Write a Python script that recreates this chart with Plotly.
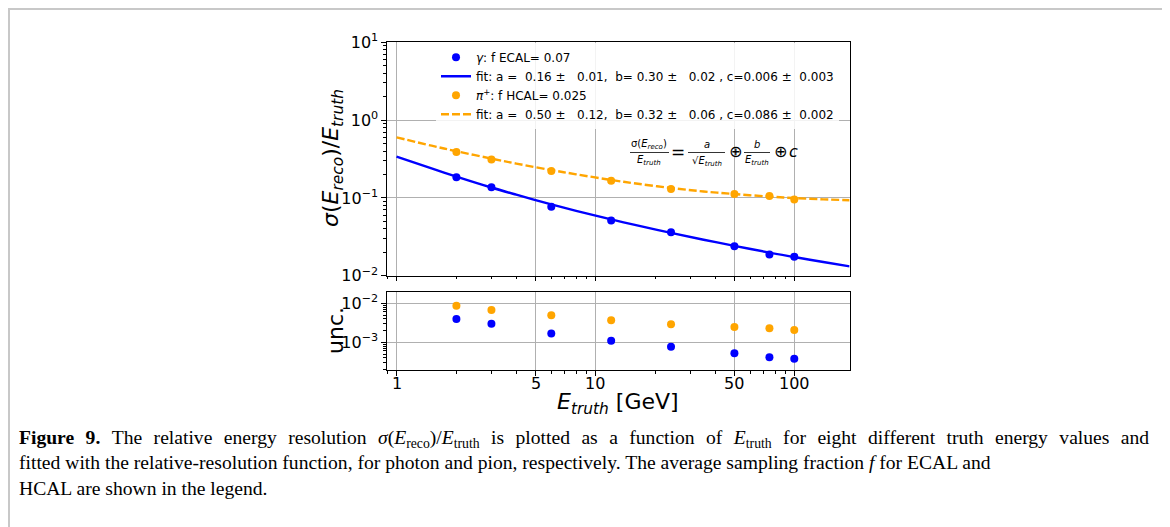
import math
import plotly.graph_objects as go

# truth energies [GeV] and measured relative resolution
energy = [2, 3, 6, 12, 24, 50, 75, 100]
res_gamma = [0.184, 0.137, 0.0767, 0.0514, 0.0361, 0.0239, 0.0187, 0.0175]
res_pion = [0.39, 0.312, 0.221, 0.166, 0.130, 0.1125, 0.106, 0.0953]

# uncertainties (lower panel)
unc_gamma = [0.00396, 0.00301, 0.00167, 0.0011, 0.000774, 0.000522, 0.000412, 0.00038]
unc_pion = [0.0087, 0.00674, 0.00492, 0.00366, 0.0029, 0.00247, 0.00229, 0.00207]

# fitted curves
fit_e = [1, 1.5, 2, 3, 4, 6, 8, 12, 16, 24, 35, 50, 75, 100, 140, 190]
fit_gamma = [0.340, 0.239, 0.188, 0.136, 0.110, 0.0825, 0.0681, 0.0529, 0.0446,
             0.0355, 0.0290, 0.0242, 0.0198, 0.0174, 0.0150, 0.0132]
fit_pion = [0.600, 0.469, 0.398, 0.320, 0.276, 0.228, 0.201, 0.170, 0.153,
            0.134, 0.121, 0.112, 0.104, 0.0995, 0.0958, 0.0934]

x_ticks = [1, 5, 10, 50, 100]
x_ticktext = ['1', '5', '10', '50', '100']
y_ticks = [0.01, 0.1, 1, 10]
y_ticktext = ['10<sup>−2</sup>', '10<sup>−1</sup>', '10<sup>0</sup>', '10<sup>1</sup>']
u_ticks = [0.001, 0.01]
u_ticktext = ['10<sup>−3</sup>', '10<sup>−2</sup>']

nb = '\u00a0'
names = [
    '<i>γ</i>: f ECAL= 0.07',
    'fit: a =  0.16 ±   0.01,  b= 0.30 ±   0.02 , c=0.006 ±  0.003'.replace(' ', nb),
    '<i>π</i><sup>+</sup>: f HCAL= 0.025',
    'fit: a =  0.50 ±   0.12,  b= 0.32 ±   0.06 , c=0.086 ±  0.002'.replace(' ', nb),
]

BLUE = '#0000ff'
ORANGE = '#ffa500'
# page body has an 8px margin, so the figure is a bit smaller than the window
OFF = 8
W, H = 1170 - OFF, 527 - OFF


def px(x):
    return (x - OFF) / W


def py(y):
    return 1 - (y - OFF) / H


fig = go.Figure()

# main panel
fig.add_trace(go.Scatter(x=fit_e, y=fit_gamma, mode='lines', name=names[1], legendrank=2,
                         line=dict(color=BLUE, width=2.4, shape='spline'), xaxis='x', yaxis='y'))
fig.add_trace(go.Scatter(x=fit_e, y=fit_pion, mode='lines', name=names[3], legendrank=4,
                         line=dict(color=ORANGE, width=2.4, dash='8px,3px', shape='spline'),
                         xaxis='x', yaxis='y'))
fig.add_trace(go.Scatter(x=energy, y=res_gamma, mode='markers', name=names[0], legendrank=1,
                         marker=dict(color=BLUE, size=8), xaxis='x', yaxis='y'))
fig.add_trace(go.Scatter(x=energy, y=res_pion, mode='markers', name=names[2], legendrank=3,
                         marker=dict(color=ORANGE, size=8), xaxis='x', yaxis='y'))

# uncertainty panel
fig.add_trace(go.Scatter(x=energy, y=unc_pion, mode='markers', showlegend=False,
                         marker=dict(color=ORANGE, size=8), xaxis='x2', yaxis='y2'))
fig.add_trace(go.Scatter(x=energy, y=unc_gamma, mode='markers', showlegend=False,
                         marker=dict(color=BLUE, size=8), xaxis='x2', yaxis='y2'))

axis_common = dict(showline=True, mirror=True, linecolor='black', linewidth=1.2,
                   ticks='outside', ticklen=4.5, tickwidth=1, tickcolor='black',
                   showgrid=True, gridcolor='#b0b0b0', gridwidth=1, zeroline=False,
                   automargin=False,
                   tickfont=dict(family='DejaVu Sans', size=16, color='black'),
                   minor=dict(ticks='outside', ticklen=2.5, tickcolor='black', dtick='D1',
                              showgrid=False))
xr = [-0.048, 2.2777]

fig.update_layout(
    width=W, height=H,
    margin=dict(l=0, r=0, t=0, b=0, autoexpand=False),
    paper_bgcolor='white', plot_bgcolor='white',
    font=dict(family='DejaVu Sans', color='black'),
    xaxis=dict(axis_common, type='log', range=xr, domain=[px(387), px(849.5)],
               anchor='y', tickvals=x_ticks, ticktext=x_ticktext, showticklabels=False),
    yaxis=dict(axis_common, type='log', range=[-2, 1], domain=[py(275.7), py(42.3)],
               anchor='x', tickvals=y_ticks, ticktext=y_ticktext),
    xaxis2=dict(axis_common, type='log', range=xr, domain=[px(387), px(849.5)],
                anchor='y2', tickvals=x_ticks, ticktext=x_ticktext, matches='x',
                showticklabels=False),
    yaxis2=dict(axis_common, type='log', range=[-3.718, -1.718],
                domain=[py(370.3), py(292.3)], anchor='x2',
                tickvals=u_ticks, ticktext=u_ticktext),
    legend=dict(x=px(436), y=py(42.8), xanchor='left', yanchor='top',
                bgcolor='rgba(255,255,255,0.85)', borderwidth=0,
                font=dict(family='DejaVu Sans', size=12, color='black'),
                traceorder='normal', tracegroupgap=0),
    showlegend=True,
)

ann = []
# x tick labels of the lower panel (placed a little closer to the axis)
for v, t in zip(x_ticks, x_ticktext):
    ann.append(dict(x=math.log10(v), xref='x2', y=py(383), text=t,
                    font=dict(size=16)))

# axis titles
ann.append(dict(x=px(333), y=py(158), text='<i>σ</i>(<i>E<sub>reco</sub></i>)/<i>E<sub>truth</sub></i>',
                textangle=-90, font=dict(size=22)))
ann.append(dict(x=px(335), y=py(331), text='unc.', textangle=-90, font=dict(size=22)))
ann.append(dict(x=px(618), y=py(403), text='<i>E<sub>truth</sub></i> [GeV]', font=dict(size=22)))

# resolution formula
fs = 10
ann += [
    dict(x=px(649), y=py(145), text='σ(<i>E<sub>reco</sub></i>)', font=dict(size=fs)),
    dict(x=px(649), y=py(160), text='<i>E<sub>truth</sub></i>', font=dict(size=fs)),
    dict(x=px(678), y=py(152), text='=', font=dict(size=17)),
    dict(x=px(707), y=py(145), text='<i>a</i>', font=dict(size=fs)),
    dict(x=px(707), y=py(161), text='√<i>E<sub>truth</sub></i>', font=dict(size=fs)),
    dict(x=px(735), y=py(152), text='⊕', font=dict(size=16)),
    dict(x=px(757), y=py(145), text='<i>b</i>', font=dict(size=fs)),
    dict(x=px(757), y=py(160), text='<i>E<sub>truth</sub></i>', font=dict(size=fs)),
    dict(x=px(780), y=py(152), text='⊕', font=dict(size=16)),
    dict(x=px(793), y=py(152), text='<i>c</i>', font=dict(size=16)),
]

# caption (first line is set a little looser, as in the journal layout)
wide = '\u2002\u200a'
line1 = ('<b>Figure' + wide + '9.</b>' + wide + wide.join(
    'The relative energy resolution'.split(' ')) + wide +
    '<i>σ</i>(<i>E</i><sub>reco</sub>)/<i>E</i><sub>truth</sub>' + wide +
    wide.join('is plotted as a function of'.split(' ')) + wide +
    '<i>E</i><sub>truth</sub>' + wide +
    wide.join('for eight different truth energy values and'.split(' ')))
captions = [
    line1,
    'fitted with the relative-resolution function, for photon and pion, respectively. '
    'The average sampling fraction <i>f</i> for ECAL and',
    'HCAL are shown in the legend.',
]
ann.append(dict(x=px(17), y=py(463), text='<br>'.join(captions), xanchor='left', align='left',
                font=dict(family='Liberation Serif', size=19.6, color='black')))

for a in ann:
    a.setdefault('xref', 'paper')
    a.setdefault('yref', 'paper')
    a.setdefault('showarrow', False)
    a.setdefault('xanchor', 'center')
    a.setdefault('yanchor', 'middle')
fig.update_layout(annotations=ann)

# fraction bars and frame
shapes = []
for x0, x1 in [(630, 669), (688, 725), (744, 770)]:
    shapes.append(dict(type='line', xref='paper', yref='paper', x0=px(x0), x1=px(x1),
                       y0=py(152.5), y1=py(152.5), line=dict(color='black', width=0.8)))
shapes.append(dict(type='rect', xref='paper', yref='paper', x0=px(9), x1=px(1163.5),
                   y0=py(9), y1=-0.2, line=dict(color='#c8c8c8', width=2)))
fig.update_layout(shapes=shapes)

fig.write_html('out.html')
